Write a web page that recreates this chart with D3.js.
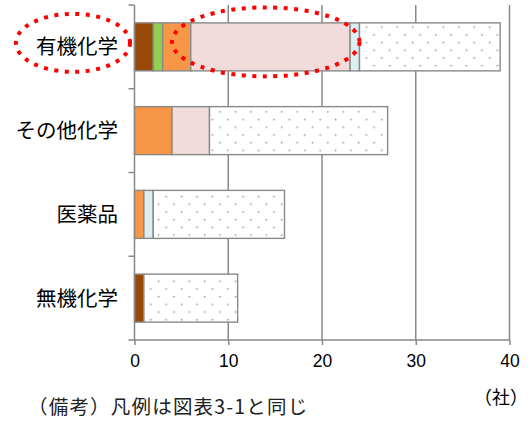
<!DOCTYPE html>
<html>
<head>
<meta charset="utf-8">
<script src="https://cdn.jsdelivr.net/npm/d3@7"></script>
<style>
  html, body { margin: 0; padding: 0; background: #fff; }
  svg { display: block; }
</style>
</head>
<body>
<div id="chart"></div>
<script>
// Industry categories (top to bottom)
const categories = ["有機化学", "その他化学", "医薬品", "無機化学"];

// Stacked segment values per category (companies)
const seriesBrown     = [2, 0, 0, 1];
const seriesGreen     = [1, 0, 0, 0];
const seriesOrange    = [3, 4, 1, 0];
const seriesPink      = [17, 4, 0, 0];
const seriesLightBlue = [1, 0, 1, 0];
const seriesDotted    = [15, 19, 14, 10];

const xTicks = [0, 10, 20, 30, 40];
const unitLabel = "（社）";
const noteText = "（備考）凡例は図表3-1と同じ";

// Highlighted span on the first bar (value range)
const highlightCategory = "有機化学";
const highlightRange = [4, 24];

const W = 530, H = 423;
const plotLeft = 134.5, plotRight = 509.5, plotTop = 5, plotBottom = 340;

const series = [
  { key: "brown",     values: seriesBrown,     fill: "#984807" },
  { key: "green",     values: seriesGreen,     fill: "#92D050" },
  { key: "orange",    values: seriesOrange,    fill: "#F79646" },
  { key: "pink",      values: seriesPink,      fill: "#F2DCDB" },
  { key: "lightblue", values: seriesLightBlue, fill: "#DBEEF3" },
  { key: "dotted",    values: seriesDotted,    fill: "url(#dots)" }
];

const rows = categories.map((c, i) => {
  const r = { category: c };
  series.forEach(s => r[s.key] = s.values[i]);
  return r;
});

const stacked = d3.stack().keys(series.map(s => s.key))(rows);

const x = d3.scaleLinear().domain([0, 40]).range([plotLeft, plotRight]);
const y = d3.scaleBand().domain(categories).range([plotTop, plotBottom])
  .paddingInner(0.427).paddingOuter(0.2135);

const svg = d3.select("#chart").append("svg")
  .attr("width", W).attr("height", H);

// dotted fill pattern
const defs = svg.append("defs");
const pat = defs.append("pattern").attr("id", "dots")
  .attr("patternUnits", "userSpaceOnUse")
  .attr("width", 15.4).attr("height", 15.4)
  .attr("x", 1).attr("y", 0.5);
pat.append("rect").attr("width", 15.4).attr("height", 15.4).attr("fill", "#fff");
pat.append("circle").attr("cx", 3.5).attr("cy", 3.5).attr("r", 0.9).attr("fill", "#9a9a9a");
pat.append("circle").attr("cx", 11.2).attr("cy", 11.2).attr("r", 0.9).attr("fill", "#9a9a9a");

const axisColor = "#898989";

// vertical gridlines
svg.append("g").selectAll("line")
  .data(xTicks.filter(t => t > 0))
  .join("line")
  .attr("x1", d => x(d)).attr("x2", d => x(d))
  .attr("y1", plotTop).attr("y2", plotBottom)
  .attr("stroke", axisColor).attr("stroke-width", 1.5);

// stacked bars
const groups = svg.append("g").selectAll("g")
  .data(stacked)
  .join("g")
  .attr("fill", (d, i) => series[i].fill);

groups.selectAll("rect")
  .data(d => d.filter(p => p[1] - p[0] > 0).map(p => ({ p, cat: p.data.category })))
  .join("rect")
  .attr("x", d => x(d.p[0]))
  .attr("width", d => x(d.p[1]) - x(d.p[0]))
  .attr("y", d => y(d.cat))
  .attr("height", y.bandwidth())
  .attr("stroke", axisColor)
  .attr("stroke-width", 1.4);

// x axis
const xAxis = svg.append("g").attr("transform", `translate(0,${plotBottom})`)
  .call(d3.axisBottom(x).tickValues(xTicks).tickSize(5).tickSizeOuter(0).tickPadding(10));
xAxis.select(".domain").remove();
xAxis.append("line").attr("x1", plotLeft - 6).attr("x2", plotRight).attr("y1", 0).attr("y2", 0)
  .attr("stroke", axisColor).attr("stroke-width", 1.5);
xAxis.selectAll(".tick line").attr("stroke", axisColor).attr("stroke-width", 1.5);
xAxis.selectAll(".tick text")
  .attr("font-family", "'Liberation Sans', Arial, sans-serif")
  .attr("font-size", 17.5).attr("fill", "#000");

// y axis with bracket ticks at band boundaries
const bounds = categories.map(c => y(c) - y.step() * y.paddingInner() / 2);
const yAxis = svg.append("g");
yAxis.append("line").attr("x1", plotLeft).attr("x2", plotLeft).attr("y1", plotTop).attr("y2", plotBottom)
  .attr("stroke", axisColor).attr("stroke-width", 1.5);
yAxis.selectAll("line.tk").data(bounds).join("line").attr("class", "tk")
  .attr("x1", plotLeft - 6).attr("x2", plotLeft).attr("y1", d => d).attr("y2", d => d)
  .attr("stroke", axisColor).attr("stroke-width", 1.5);

// category labels
svg.append("g").selectAll("text")
  .data(categories)
  .join("text")
  .attr("x", 118)
  .attr("y", d => y(d) + y.bandwidth() / 2)
  .attr("dy", "0.36em")
  .attr("text-anchor", "end")
  .attr("font-family", "'Noto Sans CJK JP', sans-serif")
  .attr("font-size", 20.5)
  .attr("fill", "#000")
  .text(d => d);

// unit label
svg.append("text")
  .attr("x", 528).attr("y", 404)
  .attr("text-anchor", "end")
  .attr("font-family", "'Noto Sans CJK JP', sans-serif")
  .attr("font-size", 18).attr("fill", "#000")
  .text(unitLabel);

// note
svg.append("text")
  .attr("x", 28).attr("y", 414)
  .attr("font-family", "'Noto Sans CJK JP', sans-serif")
  .attr("font-size", 19.5).attr("letter-spacing", 1.2).attr("fill", "#222")
  .text(noteText);

// red dotted highlight ellipses
const cy = y(highlightCategory) + y.bandwidth() / 2;
const hl = svg.append("g").attr("fill", "none").attr("stroke", "#FF0000")
  .attr("stroke-width", 4).attr("stroke-dasharray", "4 6.5");
hl.append("ellipse")
  .attr("cx", 73).attr("cy", cy - 4).attr("rx", 57).attr("ry", 29);
hl.append("ellipse")
  .attr("cx", (x(highlightRange[0]) + x(highlightRange[1])) / 2)
  .attr("cy", cy - 5)
  .attr("rx", (x(highlightRange[1]) - x(highlightRange[0])) / 2)
  .attr("ry", 34.5);
</script>
</body>
</html>
